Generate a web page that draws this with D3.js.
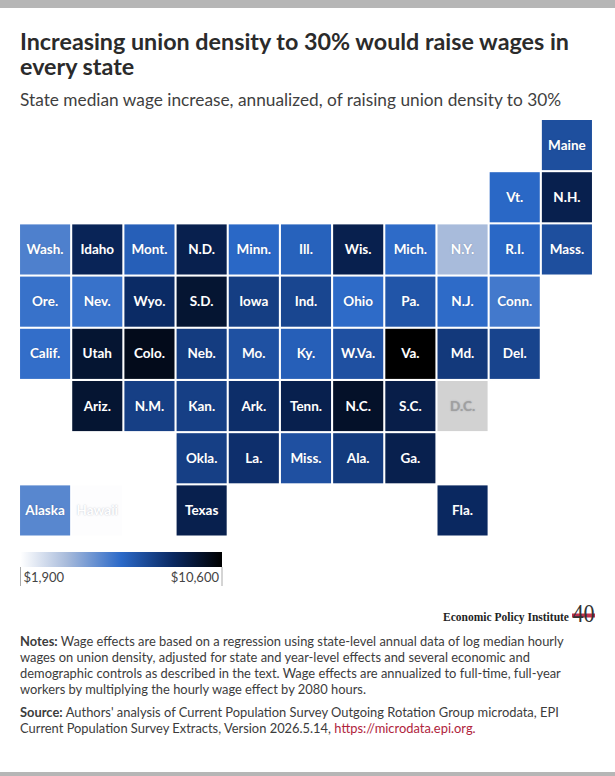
<!DOCTYPE html>
<html><head><meta charset="utf-8">
<script src="https://cdn.jsdelivr.net/npm/d3@7"></script>
<style>
html,body{margin:0;padding:0;background:#fff;}
svg{display:block;}
text{font-family:Lato,"Open Sans",sans-serif;}
</style></head><body><svg id="c" width="615" height="776"></svg>
<script>
const columns=[0,1,2,3,4,5,6,7,8,9,10];
const rows=[0,1,2,3,4,5,6,7];
const states=["Maine","Vt.","N.H.","Wash.","Idaho","Mont.","N.D.","Minn.","Ill.","Wis.","Mich.","N.Y.","R.I.","Mass.","Ore.","Nev.","Wyo.","S.D.","Iowa","Ind.","Ohio","Pa.","N.J.","Conn.","Calif.","Utah","Colo.","Neb.","Mo.","Ky.","W.Va.","Va.","Md.","Del.","Ariz.","N.M.","Kan.","Ark.","Tenn.","N.C.","S.C.","D.C.","Okla.","La.","Miss.","Ala.","Ga.","Alaska","Hawaii","Texas","Fla."];
const stateCol=[10,9,10,0,1,2,3,4,5,6,7,8,9,10,0,1,2,3,4,5,6,7,8,9,0,1,2,3,4,5,6,7,8,9,1,2,3,4,5,6,7,8,3,4,5,6,7,0,1,3,8];
const stateRow=[0,1,1,2,2,2,2,2,2,2,2,2,2,2,3,3,3,3,3,3,3,3,3,3,4,4,4,4,4,4,4,4,4,4,5,5,5,5,5,5,5,5,6,6,6,6,6,7,7,7,7];
const wages=[7150,6300,8900,5600,8700,6600,8900,6300,6500,8900,6200,3900,6300,7150,6000,6000,8400,9500,7750,7460,6200,6950,6200,5800,6100,9500,10000,7800,7080,6600,7100,10600,7910,7530,9500,7700,7700,8300,8900,9700,9000,null,7700,8250,7100,7870,8900,5400,1950,8900,8500];
const legendDomain=[1900,10600];
const legendLabels=["$1,900","$10,600"];
const colorStops=[1900,3900,6250,8500,10600];
const colorRange=["#ffffff","#a8bbdb","#2b69c8","#0a2860","#000000"];
const titleLines=["Increasing union density to 30% would raise wages in","every state"];
const subtitle="State median wage increase, annualized, of raising union density to 30%";
const notes=[[["Notes: ",1],["Wage effects are based on a regression using state-level annual data of log median hourly",0]],
[["wages on union density, adjusted for state and year-level effects and several economic and",0]],
[["demographic controls as described in the text. Wage effects are annualized to full-time, full-year",0]],
[["workers by multiplying the hourly wage effect by 2080 hours.",0]]];
const source=[[["Source: ",1],["Authors' analysis of Current Population Survey Outgoing Rotation Group microdata, EPI",0]],
[["Current Population Survey Extracts, Version 2026.5.14, ",0],["https://microdata.epi.org.",2]]];

const svg=d3.select("#c");
svg.append("rect").attr("width",615).attr("height",8).attr("fill","#b6b6b6");
svg.append("rect").attr("y",772).attr("width",615).attr("height",4).attr("fill","#b6b6b6");

svg.selectAll("text.t").data(titleLines).join("text").attr("class","t")
 .attr("x",20).attr("y",(d,i)=>49.5+i*25.5).attr("font-size",23.3).attr("font-weight",700).attr("fill","#2b2b2b").text(d=>d);
svg.append("text").attr("x",20).attr("y",105.5).attr("font-size",17.3).attr("fill","#3f3f3f").text(subtitle);

const x=d3.scaleBand().domain(columns).range([19,593]).paddingInner(0.04).paddingOuter(0.02);
const y=d3.scaleBand().domain(rows).range([120,535.5]).paddingInner(0.04).paddingOuter(0.0);
const color=d3.scaleLinear().domain(colorStops).range(colorRange).interpolate(d3.interpolateRgb);

const cells=svg.selectAll("g.s").data(states).join("g").attr("class","s")
 .attr("transform",(d,i)=>`translate(${x(stateCol[i])},${y(stateRow[i])})`);
cells.append("rect").attr("width",x.bandwidth()).attr("height",y.bandwidth())
 .attr("fill",(d,i)=>wages[i]==null?"#d2d2d2":color(wages[i]));
cells.append("text").attr("x",x.bandwidth()/2).attr("y",y.bandwidth()/2+4.5)
 .attr("text-anchor","middle").attr("font-size",13.5).attr("font-weight",700)
 .style("text-shadow","0 0 1.5px rgba(60,70,100,.35)")
 .attr("fill",(d,i)=>wages[i]==null?"#a0a0a0":"#fff").text(d=>d);

const defs=svg.append("defs");
const lg=defs.append("linearGradient").attr("id","lg");
colorStops.forEach(v=>lg.append("stop").attr("offset",(v-legendDomain[0])/(legendDomain[1]-legendDomain[0])).attr("stop-color",color(v)));
const lx=d3.scaleLinear().domain(legendDomain).range([20.5,222]);
svg.append("rect").attr("x",lx(1900)).attr("y",552).attr("width",lx(10600)-lx(1900)).attr("height",15).attr("fill","url(#lg)");
legendDomain.forEach(v=>svg.append("line").attr("x1",lx(v)).attr("x2",lx(v)).attr("y1",567).attr("y2",586).attr("stroke","#aaa"));
svg.append("text").attr("x",lx(1900)+3).attr("y",581.5).attr("font-size",13).attr("fill","#444").text(legendLabels[0]);
svg.append("text").attr("x",lx(10600)-3).attr("y",581.5).attr("text-anchor","end").attr("font-size",13).attr("fill","#444").text(legendLabels[1]);

const logo=svg.append("text").attr("transform","translate(443,621) scale(0.86,1)").style("font-family","Liberation Serif").attr("font-size",13.4).attr("font-weight",700).attr("fill","#1f1f1f").text("Economic Policy Institute");
svg.append("rect").attr("x",572).attr("y",613.5).attr("width",23).attr("height",4).attr("fill","#c0304f");
svg.append("text").attr("transform","translate(572.5,622) scale(0.85,1)").style("font-family","Liberation Serif").attr("font-size",26).attr("fill","#333").text("40");

function para(lines,y0,lh){
 lines.forEach((ln,i)=>{
  const t=svg.append("text").attr("x",20).attr("y",y0+i*lh).attr("font-size",12.9).attr("fill","#3c3c3c");
  ln.forEach(([s,k])=>t.append("tspan").attr("font-weight",k==1?700:400).attr("fill",k==2?"#b0243c":null).text(s));
 });
}
para(notes,645.8,16.1);
para(source,717,16.1);
</script></body></html>
